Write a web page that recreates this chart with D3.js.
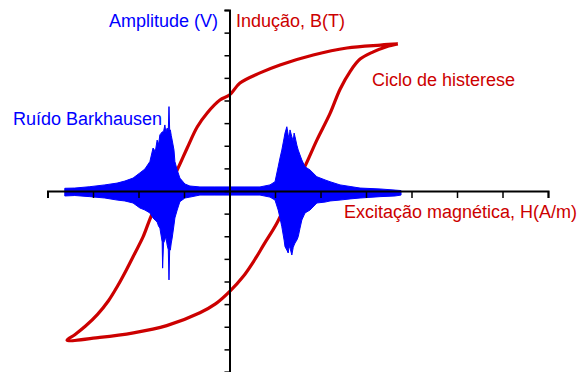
<!DOCTYPE html>
<html>
<head>
<meta charset="utf-8">
<script src="https://cdn.jsdelivr.net/npm/d3@7"></script>
<style>
  body { margin: 0; background: #fff; }
  text { font-family: "Liberation Sans", Arial, sans-serif; font-size: 18px; }
  .axis path, .axis line { stroke: #000; }
  .axis path { stroke-width: 2; }
  .axis line { stroke-width: 1.5; }
</style>
</head>
<body>
<div id="chart_area"></div>
<script>
// Hysteresis loop, H (A/m) vs B (T). Upper branch goes from +tip down to -tip.
var upperH = [3.70, 3.32, 2.58, 1.84, 1.11, 0.67, 0.23, 0, -0.21, -0.49, -0.71, -0.93, -1.15, -1.40, -1.69, -1.90, -2.08, -2.27, -2.46, -2.66, -2.90, -3.17, -3.40, -3.57];
var upperB = [6.50, 6.45, 6.32, 6.01, 5.57, 5.22, 4.77, 4.24, 4.02, 3.45, 2.83, 1.90, 0.93, 0, -0.97, -2.03, -2.75, -3.50, -4.20, -4.85, -5.45, -5.98, -6.35, -6.59];
// Lower branch goes from -tip back up to +tip.
var lowerH = [-3.57, -2.85, -2.11, -1.38, -0.65, -0.30, 0, 0.30, 0.55, 0.76, 1.04, 1.37, 1.66, 1.92, 2.21, 2.43, 2.65, 2.87, 3.16, 3.45, 3.70];
var lowerB = [-6.59, -6.47, -6.27, -5.95, -5.38, -4.98, -4.45, -3.78, -3.05, -2.35, -1.43, 0, 1.10, 2.25, 3.43, 4.50, 5.28, 5.83, 6.15, 6.38, 6.50];

// Barkhausen noise envelope (same vertical scale, amplitude in V)
var noiseH = [-3.62, -3.40, -3.07, -2.74, -2.47, -2.30, -2.12, -1.97, -1.86, -1.75, -1.68, -1.63, -1.59, -1.56, -1.53, -1.48, -1.47, -1.45, -1.42, -1.40, -1.37, -1.345, -1.33, -1.315, -1.30, -1.28, -1.26, -1.22, -1.20, -1.15, -1.09, -0.98, -0.87, -0.65, -0.32, 0, 0.34, 0.67,
              0.89, 1.00, 1.07, 1.11, 1.15, 1.20, 1.22, 1.26, 1.29, 1.31, 1.33, 1.37, 1.40, 1.42, 1.44, 1.48, 1.51, 1.55, 1.59, 1.66, 1.77, 1.92, 2.10, 2.21, 2.43, 2.65, 2.87, 3.31, 3.64, 3.77];
var noiseTop = [0.12, 0.13, 0.19, 0.27, 0.35, 0.44, 0.57, 0.80, 0.97, 1.30, 1.90, 1.75, 2.25, 2.05, 2.48, 2.61, 2.62, 2.62, 2.92, 2.60, 2.78, 2.70, 3.73, 2.70, 2.70, 2.45, 2.25, 1.81, 1.30, 0.93, 0.57, 0.31, 0.22, 0.18, 0.18, 0.18, 0.18, 0.18,
                0.27, 0.41, 1.07, 1.46, 1.81, 2.34, 2.56, 2.84, 2.48, 2.30, 2.70, 2.40, 2.20, 2.56, 2.40, 2.03, 1.81, 1.59, 1.37, 1.07, 0.93, 0.63, 0.49, 0.41, 0.27, 0.20, 0.13, 0.09, 0.04, 0.02];
var noiseBottom = [-0.22, -0.20, -0.25, -0.31, -0.40, -0.44, -0.53, -0.75, -0.84, -0.97, -1.19, -1.30, -1.37, -1.55, -1.64, -2.25, -3.41, -2.30, -2.17, -2.00, -2.39, -2.60, -3.93, -2.61, -2.61, -2.30, -2.08, -1.50, -1.19, -0.84, -0.47, -0.31, -0.27, -0.18, -0.18, -0.18, -0.18, -0.18,
                   -0.27, -0.40, -0.84, -1.19, -1.58, -2.17, -2.46, -2.61, -2.74, -2.45, -2.52, -2.83, -2.50, -2.39, -2.30, -2.17, -2.02, -1.64, -1.28, -0.97, -0.84, -0.53, -0.49, -0.44, -0.40, -0.35, -0.31, -0.25, -0.22, -0.18];

var red = "#cc0000";
var blue = "#0000ff";

var frame_width = 580;
var frame_height = 372;

var frame = d3.select("#chart_area").append("svg")
	.attr("width", frame_width)
	.attr("height", frame_height);

// Scales: one tick per unit
var xScale = d3.scaleLinear().domain([-4, 7]).range([47.5, 548]);
var yScale = d3.scaleLinear().domain([-8, 8]).range([372, 10]);

// Hysteresis loop
var loop = upperH.map(function(h, i) { return [h, upperB[i]]; })
	.concat(lowerH.slice(1).map(function(h, i) { return [h, lowerB[i + 1]]; }));

var line = d3.line()
	.x(function(d) { return xScale(d[0]); })
	.y(function(d) { return yScale(d[1]); })
	.curve(d3.curveCatmullRom.alpha(0.5));

frame.append("path")
	.attr("d", line(loop))
	.attr("fill", "none")
	.attr("stroke", red)
	.attr("stroke-width", 3.2)
	.attr("stroke-linejoin", "round");

// Barkhausen noise drawn on top of the loop
var noise = noiseH.map(function(h, i) { return {h: h, top: noiseTop[i], bottom: noiseBottom[i]}; });
var area = d3.area()
	.x(function(d) { return xScale(d.h); })
	.y0(function(d) { return yScale(d.bottom); })
	.y1(function(d) { return yScale(d.top); });

frame.append("path")
	.attr("d", area(noise))
	.attr("fill", blue)
	.attr("stroke", blue)
	.attr("stroke-width", 1);

// Axes
frame.append("g")
	.attr("class", "axis")
	.attr("transform", "translate(0," + yScale(0) + ")")
	.call(d3.axisBottom(xScale).ticks(11).tickSize(7).tickFormat(""));

frame.append("g")
	.attr("class", "axis")
	.attr("transform", "translate(" + xScale(0) + ",0)")
	.call(d3.axisLeft(yScale).ticks(16).tickSize(5).tickFormat(""));

// Labels
frame.append("text").attr("x", 218).attr("y", 27).attr("text-anchor", "end").attr("fill", blue).text("Amplitude (V)");
frame.append("text").attr("x", 236).attr("y", 27).attr("fill", red).text("Indução, B(T)");
frame.append("text").attr("x", 372).attr("y", 86).attr("fill", red).text("Ciclo de histerese");
frame.append("text").attr("x", 13).attr("y", 125).attr("fill", blue).text("Ruído Barkhausen");
frame.append("text").attr("x", 344).attr("y", 218).attr("fill", red).text("Excitação magnética, H(A/m)");
</script>
</body>
</html>
